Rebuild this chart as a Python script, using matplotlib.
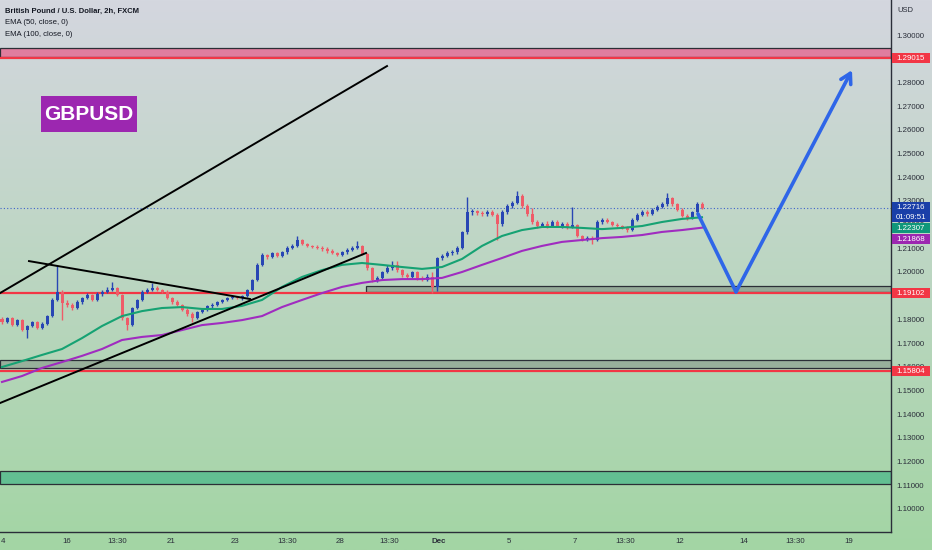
import matplotlib
matplotlib.use("Agg")
import matplotlib.pyplot as plt
from matplotlib.patches import Rectangle, FancyArrowPatch
import numpy as np

W, H = 932, 550
NARROW = ['Liberation Sans', 'DejaVu Sans']

# GBPUSD 2h candles (one value per bar)
first_open = 1.1800
closes = [
    1.1789, 1.1806, 1.1776, 1.1797, 1.1755, 1.1772, 1.1789, 1.1764, 1.1781, 1.1814,
    1.1882, 1.1916, 1.1869, 1.1861, 1.1848, 1.1873, 1.1890, 1.1903, 1.1882, 1.1907,
    1.1916, 1.1924, 1.1932, 1.1903, 1.1806, 1.1776, 1.1848, 1.1882, 1.1916, 1.1924,
    1.1932, 1.1924, 1.1916, 1.1890, 1.1873, 1.1861, 1.1840, 1.1823, 1.1806, 1.1831,
    1.1840, 1.1857, 1.1861, 1.1873, 1.1882, 1.1890, 1.1895, 1.1890, 1.1899, 1.1924,
    1.1966, 1.2030, 1.2072, 1.2063, 1.2080, 1.2068, 1.2084, 1.2101, 1.2110, 1.2135,
    1.2118, 1.2110, 1.2106, 1.2101, 1.2097, 1.2089, 1.2080, 1.2072, 1.2084, 1.2093,
    1.2101, 1.2110, 1.2076, 1.2017, 1.1966, 1.1975, 1.2000, 1.2017, 1.2030, 1.2008,
    1.1987, 1.1979, 1.2000, 1.1975, 1.1966, 1.1979, 1.1937, 1.2059, 1.2068, 1.2080,
    1.2084, 1.2101, 1.2169, 1.2253, 1.2257, 1.2249, 1.2245, 1.2253, 1.2241, 1.2203,
    1.2253, 1.2279, 1.2291, 1.2321, 1.2279, 1.2245, 1.2211, 1.2194, 1.2203, 1.2194,
    1.2211, 1.2194, 1.2203, 1.2190, 1.2198, 1.2152, 1.2139, 1.2143, 1.2135, 1.2211,
    1.2219, 1.2211, 1.2198, 1.2194, 1.2186, 1.2177, 1.2219, 1.2241, 1.2253, 1.2245,
    1.2262, 1.2274, 1.2287, 1.2312, 1.2287, 1.2262, 1.2236, 1.2228, 1.2253, 1.2287,
    1.2272,
]
highs = [
    1.1808, 1.1812, 1.1810, 1.1803, 1.1800, 1.1778, 1.1795, 1.1793, 1.1787, 1.1820,
    1.1890, 1.2030, 1.1922, 1.1880, 1.1868, 1.1880, 1.1896, 1.1910, 1.1908, 1.1914,
    1.1922, 1.1935, 1.1958, 1.1938, 1.1908, 1.1812, 1.1854, 1.1888, 1.1922, 1.1932,
    1.1953, 1.1940, 1.1930, 1.1922, 1.1896, 1.1880, 1.1866, 1.1846, 1.1830, 1.1836,
    1.1846, 1.1862, 1.1870, 1.1878, 1.1888, 1.1896, 1.1904, 1.1900, 1.1905, 1.1930,
    1.1972, 1.2038, 1.2080, 1.2078, 1.2086, 1.2086, 1.2090, 1.2108, 1.2118, 1.2150,
    1.2140, 1.2124, 1.2116, 1.2112, 1.2108, 1.2104, 1.2096, 1.2086, 1.2090, 1.2100,
    1.2108, 1.2131, 1.2116, 1.2080, 1.2020, 1.1982, 1.2006, 1.2030, 1.2045, 1.2048,
    1.2014, 1.1995, 1.2006, 1.2006, 1.1982, 1.1990, 1.2000, 1.2064, 1.2074, 1.2088,
    1.2092, 1.2108, 1.2175, 1.2317, 1.2265, 1.2262, 1.2258, 1.2260, 1.2262, 1.2250,
    1.2260, 1.2286, 1.2298, 1.2340, 1.2328, 1.2286, 1.2270, 1.2218, 1.2210, 1.2215,
    1.2218, 1.2220, 1.2210, 1.2212, 1.2274, 1.2204, 1.2158, 1.2152, 1.2150, 1.2218,
    1.2226, 1.2228, 1.2216, 1.2205, 1.2200, 1.2192, 1.2226, 1.2248, 1.2260, 1.2262,
    1.2270, 1.2282, 1.2294, 1.2333, 1.2318, 1.2292, 1.2268, 1.2244, 1.2258, 1.2294,
    1.2296,
]
lows = [
    1.1782, 1.1784, 1.1770, 1.1772, 1.1750, 1.1722, 1.1766, 1.1758, 1.1760, 1.1777,
    1.1810, 1.1878, 1.1797, 1.1852, 1.1840, 1.1843, 1.1866, 1.1885, 1.1876, 1.1878,
    1.1900, 1.1910, 1.1918, 1.1897, 1.1798, 1.1755, 1.1770, 1.1842, 1.1876, 1.1910,
    1.1918, 1.1918, 1.1910, 1.1884, 1.1866, 1.1855, 1.1834, 1.1816, 1.1789, 1.1800,
    1.1825, 1.1834, 1.1850, 1.1855, 1.1868, 1.1876, 1.1884, 1.1884, 1.1880, 1.1893,
    1.1918, 1.1960, 1.2024, 1.2055, 1.2058, 1.2062, 1.2062, 1.2078, 1.2095, 1.2104,
    1.2112, 1.2104, 1.2100, 1.2095, 1.2090, 1.2082, 1.2074, 1.2066, 1.2066, 1.2078,
    1.2088, 1.2095, 1.2070, 1.2010, 1.1958, 1.1958, 1.1970, 1.1995, 1.2010, 1.2002,
    1.1980, 1.1972, 1.1974, 1.1968, 1.1960, 1.1960, 1.1911, 1.1920, 1.2052, 1.2062,
    1.2070, 1.2078, 1.2095, 1.2162, 1.2240, 1.2242, 1.2238, 1.2238, 1.2235, 1.2135,
    1.2196, 1.2246, 1.2272, 1.2285, 1.2272, 1.2238, 1.2204, 1.2186, 1.2188, 1.2186,
    1.2188, 1.2188, 1.2186, 1.2182, 1.2184, 1.2146, 1.2132, 1.2132, 1.2118, 1.2130,
    1.2204, 1.2205, 1.2192, 1.2188, 1.2180, 1.2170, 1.2172, 1.2214, 1.2236, 1.2238,
    1.2240, 1.2256, 1.2268, 1.2280, 1.2280, 1.2256, 1.2230, 1.2220, 1.2222, 1.2246,
    1.2264,
]

# EMA values read every 4 bars
ema_step = 4
ema50 = [
    1.1599, 1.1624, 1.1650, 1.1675, 1.1721, 1.1772, 1.1814, 1.1835, 1.1848, 1.1852,
    1.1844, 1.1844, 1.1857, 1.1882, 1.1937, 1.1979, 1.2008, 1.2030, 1.2038, 1.2030,
    1.2021, 1.2013, 1.2021, 1.2055, 1.2110, 1.2152, 1.2177, 1.2190, 1.2190, 1.2186,
    1.2181, 1.2186, 1.2194, 1.2211, 1.2224, 1.2231,
]
ema100 = [
    1.1536, 1.1561, 1.1595, 1.1620, 1.1646, 1.1675, 1.1713, 1.1726, 1.1734, 1.1755,
    1.1776, 1.1785, 1.1797, 1.1814, 1.1852, 1.1882, 1.1911, 1.1937, 1.1954, 1.1966,
    1.1970, 1.1970, 1.1975, 1.2000, 1.2030, 1.2059, 1.2089, 1.2110, 1.2127, 1.2135,
    1.2143, 1.2148, 1.2156, 1.2169, 1.2177, 1.2187,
]

last_price = 1.22716
countdown = '01:09:51'
ema50_last = 1.22307
ema100_last = 1.21868

# drawn levels and zones
red_levels = [1.29015, 1.19102, 1.15804]
zone_top = (1.29072, 1.29451)
zone_mid = (1.19156, 1.19409)
zone_mid_start = 72.8
zone_low = (1.15949, 1.16286)
zone_green = (1.11054, 1.11602)

trend_lines = [
    ((-0.4, 77.0), (1.1911, 1.2869)),
    ((5.4, 49.6), (1.2046, 1.1886)),
    ((-0.4, 72.8), (1.1447, 1.2080)),
]
forecast_x = [139.2, 146.8, 170.0]
forecast_y = [1.2245, 1.1916, 1.2852]

x_tick_pos = [0.2, 13, 23, 33.8, 46.6, 57, 67.6, 77.4, 87.4, 101.4, 114.6, 124.6, 135.6, 148.4, 158.6, 169.4]
x_tick_lab = ['4', '16', '13:30', '21', '23', '13:30', '28', '13:30', 'Dec', '5', '7', '13:30', '12', '14', '13:30', '19']
y_ticks = [1.10, 1.11, 1.12, 1.13, 1.14, 1.15, 1.16, 1.17, 1.18, 1.19, 1.20,
           1.21, 1.22, 1.23, 1.24, 1.25, 1.26, 1.27, 1.28, 1.29, 1.30]

UP, DOWN = '#2846b4', '#ef5b68'
RED = '#f23645'

fig = plt.figure(figsize=(W / 100, H / 100), dpi=100)

# background gradient over the whole figure
bg = fig.add_axes([0, 0, 1, 1], zorder=-10)
top_c = np.array([212, 215, 223]) / 255
bot_c = np.array([163, 213, 164]) / 255
t = np.linspace(0, 1, 256)[:, None]
grad = (top_c * (1 - t) + bot_c * t)[:, None, :]
bg.imshow(grad, aspect='auto', extent=[0, 1, 0, 1])
bg.set_axis_off()

ax = fig.add_axes([0, 18 / H, 891 / W, 532 / H])
ax.set_facecolor('none')
ax.set_xlim(-0.4, 177.8)
ax.set_ylim(1.09028, 1.31478)

# zones
def zone(x0, x1, lo, hi, fc):
    ax.add_patch(Rectangle((x0, lo), x1 - x0, hi - lo, facecolor=fc,
                           edgecolor='#2b2f36', linewidth=0.9, zorder=1))

zone(-0.4, 177.8, zone_top[0], zone_top[1], '#e07d9e')
zone(zone_mid_start, 177.8, zone_mid[0], zone_mid[1], '#94a997')
zone(-0.4, 177.8, zone_low[0], zone_low[1], '#98b09b')
zone(-0.4, 177.8, zone_green[0], zone_green[1], '#62bf92')

for lv in red_levels:
    ax.axhline(lv, color=RED, lw=1.6, zorder=2)

# current price dotted line
ax.axhline(last_price, color='#3f63c8', lw=0.8, ls=(0, (1, 2)), zorder=2)

# candles
x = np.arange(len(closes))
c = np.array(closes)
o = np.array([first_open] + closes[:-1])
cols = [UP if cc >= oo else DOWN for cc, oo in zip(c, o)]
ax.vlines(x, lows, highs, colors=cols, lw=1, zorder=4)
body = np.maximum(np.abs(c - o), 0.00015)
ax.bar(x, body, bottom=np.minimum(c, o), width=0.6, color=cols, zorder=5, linewidth=0)

# EMAs
ex = np.arange(0, len(closes), ema_step)
ax.plot(ex, ema50, color='#16a273', lw=1.5, zorder=6)
ax.plot(ex, ema100, color='#a02cc0', lw=1.5, zorder=6)

# trend lines
for xs, ys in trend_lines:
    ax.plot(xs, ys, color='black', lw=1.4, zorder=7)

# forecast path
ax.plot(forecast_x[:2], forecast_y[:2], color='#2f66e8', lw=2.6, solid_capstyle='round', zorder=8)
ax.add_patch(FancyArrowPatch((forecast_x[1], forecast_y[1]), (forecast_x[2], forecast_y[2]),
                             arrowstyle='->,head_length=7,head_width=4', color='#2f66e8',
                             lw=2.6, shrinkA=0, shrinkB=0, zorder=8))

# axes styling
for s in ['left', 'top']:
    ax.spines[s].set_visible(False)
for s in ['right', 'bottom']:
    ax.spines[s].set_color('#2a2e39')
    ax.spines[s].set_linewidth(1)
ax.yaxis.tick_right()
ax.set_yticks(y_ticks)
ax.set_yticklabels([f'{v:.5f}' for v in y_ticks], family=NARROW, fontsize=5.7, color='#2a2e39')
ax.set_xticks(x_tick_pos)
ax.set_xticklabels(x_tick_lab, family=NARROW, fontsize=5.7, color='#2a2e39')
for lab in ax.get_xticklabels():
    if lab.get_text() == 'Dec':
        lab.set_fontweight('bold')
ax.tick_params(axis='y', length=0, pad=4)
ax.tick_params(axis='x', length=0, pad=4)

# legend text top-left
fig.text(5 / W, 1 - 11 / H, 'British Pound / U.S. Dollar, 2h, FXCM', family=NARROW,
         fontsize=5.5, fontweight='bold', color='#131722', va='center')
fig.text(5 / W, 1 - 22 / H, 'EMA (50, close, 0)', family=NARROW, fontsize=5.6, color='#131722', va='center')
fig.text(5 / W, 1 - 34 / H, 'EMA (100, close, 0)', family=NARROW, fontsize=5.6, color='#131722', va='center')
fig.text(897 / W, 1 - 10 / H, 'USD', family=NARROW, fontsize=5.5, color='#2a2e39', va='center')

# GBPUSD tag
fig.patches.append(Rectangle((41 / W, 1 - 132 / H), 96 / W, 36 / H, transform=fig.transFigure,
                             facecolor='#9c27b0', edgecolor='none', figure=fig))
fig.text(89 / W, 1 - 114 / H, 'GBPUSD', family=['Liberation Sans', 'DejaVu Sans'],
         fontsize=15, fontweight='bold', color='white', ha='center', va='center')

# price labels on the right scale
def ypix(price):
    # pixel position from the top of the image
    return H - ax.transData.transform((0, price))[1]

def tag(top, height, color, lines):
    fig.patches.append(Rectangle((892 / W, 1 - (top + height) / H), 38 / W, height / H,
                                 transform=fig.transFigure, facecolor=color,
                                 edgecolor='none', figure=fig))
    step = height / len(lines)
    for k, s in enumerate(lines):
        fig.text(911 / W, 1 - (top + step * (k + 0.5)) / H, s, family=NARROW, fontsize=5.7,
                 color='white', ha='center', va='center')

for lv in red_levels:
    tag(ypix(lv) - 5, 10, RED, [f'{lv:.5f}'])

blue_top = ypix(last_price) - 5.5
tag(blue_top, 20, '#1a3fa8', [f'{last_price:.5f}', countdown])
tag(blue_top + 21, 10, '#10977a', [f'{ema50_last:.5f}'])
tag(blue_top + 32, 10, '#9c27b0', [f'{ema100_last:.5f}'])

fig.savefig('out.png', dpi=100)
